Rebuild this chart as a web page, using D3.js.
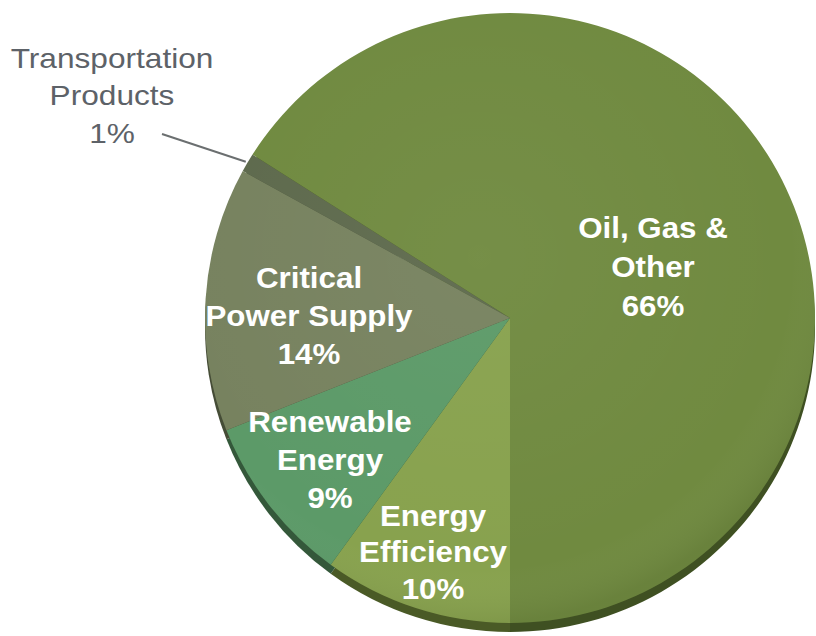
<!DOCTYPE html>
<html>
<head>
<meta charset="utf-8">
<script src="https://cdn.jsdelivr.net/npm/d3@7"></script>
<style>
  html, body { margin: 0; padding: 0; background: #ffffff; }
  svg { display: block; }
  text { font-family: "Liberation Sans", Arial, sans-serif; }
</style>
</head>
<body>
<svg id="chart" width="816" height="636"></svg>
<script>
// ---- Data ----
const categories = ["Transportation Products", "Oil, Gas & Other", "Energy Efficiency", "Renewable Energy", "Critical Power Supply"];
const labelLines = [
  ["Transportation", "Products", "1%"],
  ["Oil, Gas &", "Other", "66%"],
  ["Energy", "Efficiency", "10%"],
  ["Renewable", "Energy", "9%"],
  ["Critical", "Power Supply", "14%"]
];
const values = [1, 66, 10, 9, 14];

// ---- Styles / layout ----
const topColors  = ["#5e6a4d", "#708a40", "#88a24e", "#5c9a68", "#77825f"];
const sideColors = ["#3a4330", "#3f5022", "#4a5a26", "#34583a", "#454c36"];
const cx = 510, cy = 318, R = 305, depth = 9;
// label anchor points (center of first line) and line spacing
const labelAnchors = [[112, 68], [653, 238], [433, 526], [330, 432], [309, 288]];
const lineGap = [37.5, 39, 36.5, 38, 38];

const svg = d3.select("#chart");

const total = d3.sum(values);
const startA = Math.PI - 2 * Math.PI * (values[0] + values[1]) / total;

const pie = d3.pie().sort(null).value(d => d)
  .startAngle(startA).endAngle(startA + 2 * Math.PI);
const arcs = pie(values);
const arc = d3.arc().innerRadius(0).outerRadius(R);

const defs = svg.append("defs");

// side (thickness) layer
const side = svg.append("g").attr("transform", `translate(${cx},${cy + depth})`);
side.selectAll("path").data(arcs).join("path")
  .attr("d", arc)
  .attr("fill", (d, i) => sideColors[i]);

// top face
const topG = svg.append("g").attr("transform", `translate(${cx},${cy})`);
topG.selectAll("path").data(arcs).join("path")
  .attr("d", arc)
  .attr("fill", (d, i) => topColors[i]);

// subtle sheen gradient overlay
const grad = defs.append("radialGradient").attr("id", "sheen")
  .attr("cx", "45%").attr("cy", "40%").attr("r", "60%");
grad.append("stop").attr("offset", "0%").attr("stop-color", "#ffffff").attr("stop-opacity", 0.04);
grad.append("stop").attr("offset", "85%").attr("stop-color", "#ffffff").attr("stop-opacity", 0.0);
grad.append("stop").attr("offset", "100%").attr("stop-color", "#000000").attr("stop-opacity", 0.06);
topG.append("circle").attr("r", R).attr("fill", "url(#sheen)");

// leader line for Transportation Products
const outerPt = d3.arc().innerRadius(R + 2).outerRadius(R + 2).centroid(arcs[0]);
svg.append("line")
  .attr("x1", 162).attr("y1", 134)
  .attr("x2", cx + outerPt[0]).attr("y2", cy + outerPt[1])
  .attr("stroke", "#6b6f70").attr("stroke-width", 2);

// labels (slightly stretched horizontally like the original)
labelLines.forEach((lines, i) => {
  const [lx, ly] = labelAnchors[i];
  const sx = i === 0 ? 1.11 : 1.08;
  const g = svg.append("g").attr("transform", `translate(${lx},${ly}) scale(${sx},1)`);
  const t = g.append("text")
    .attr("text-anchor", "middle")
    .attr("fill", i === 0 ? "#5d6268" : "#ffffff")
    .attr("font-weight", i === 0 ? "normal" : "bold")
    .attr("font-size", i === 0 ? 28.5 : 29);
  lines.forEach((s, j) => {
    t.append("tspan").attr("x", 0).attr("y", j * lineGap[i]).text(s);
  });
});
</script>
</body>
</html>
